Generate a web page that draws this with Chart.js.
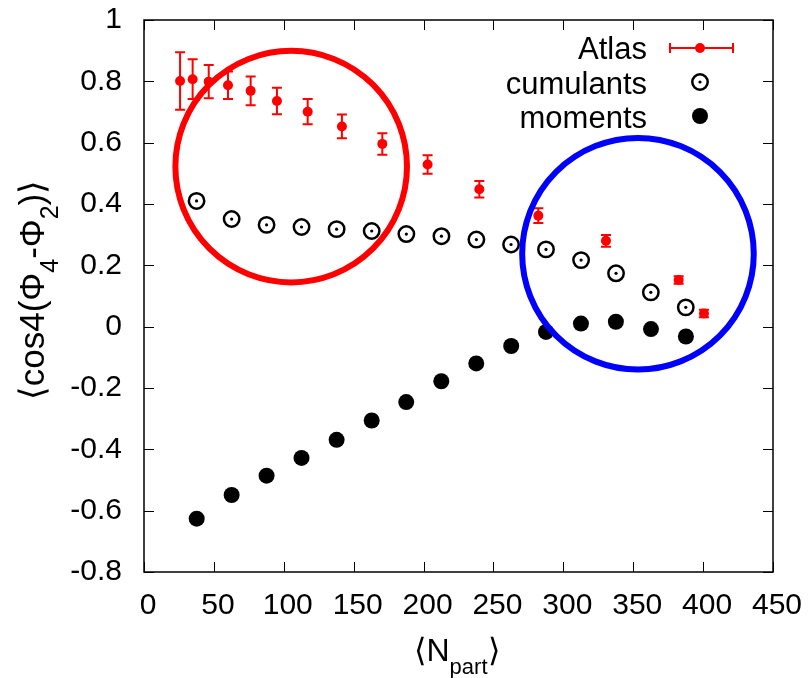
<!DOCTYPE html>
<html>
<head>
<meta charset="utf-8">
<script src="https://cdn.jsdelivr.net/npm/chart.js@4.4.1/dist/chart.umd.min.js"></script>
<style>
  body { margin: 0; background: #fff; }
</style>
</head>
<body>
<canvas id="chart" width="808" height="678"></canvas>
<script>
// values
const atlasX = [25.8, 34.8, 46.3, 60.1, 76.3, 95.1, 117.1, 141.6, 170.5, 202.9, 239.9, 282.1, 330.5, 382.5, 400.6];
const atlasY = [0.801, 0.807, 0.799, 0.787, 0.769, 0.736, 0.701, 0.653, 0.596, 0.529, 0.448, 0.362, 0.280, 0.152, 0.043];
const atlasErr = [0.094, 0.065, 0.054, 0.045, 0.047, 0.043, 0.041, 0.039, 0.035, 0.030, 0.027, 0.024, 0.019, 0.012, 0.012];

const cumX = [37.6, 62.7, 87.7, 112.7, 137.8, 162.9, 187.7, 212.8, 237.8, 262.6, 287.6, 312.7, 337.7, 362.6, 387.6];
const cumY = [0.410, 0.351, 0.332, 0.325, 0.318, 0.312, 0.302, 0.295, 0.284, 0.268, 0.252, 0.217, 0.174, 0.112, 0.063];

const momX = [37.7, 62.7, 87.7, 112.7, 137.8, 162.9, 187.6, 212.7, 237.7, 262.7, 287.6, 312.6, 337.6, 362.7, 387.7];
const momY = [-0.626, -0.549, -0.486, -0.428, -0.369, -0.306, -0.246, -0.178, -0.120, -0.063, -0.017, 0.010, 0.016, -0.008, -0.032];

// the two hand-drawn circles (centres)
const ringX = [105.3, 353.4];
const ringY = [0.522, 0.238];

const xTicks = [0, 50, 100, 150, 200, 250, 300, 350, 400, 450];
const yTicks = [-0.8, -0.6, -0.4, -0.2, 0, 0.2, 0.4, 0.6, 0.8, 1];

const seriesNames = ['Atlas', 'cumulants', 'moments'];

const FONT = '"Liberation Sans", Arial, Helvetica, sans-serif';

function pts(xs, ys) {
    return xs.map((x, i) => ({x: x, y: ys[i]}));
}

// error bars for the Atlas points
const errorBars = {
    id: 'errorBars',
    afterDatasetDraw(chart, args) {
        if (args.index !== 0) return;
        const ctx = chart.ctx;
        const xs = chart.scales.x, ys = chart.scales.y;
        ctx.save();
        ctx.strokeStyle = '#ff0000';
        ctx.lineWidth = 2;
        atlasX.forEach((x, i) => {
            const px = xs.getPixelForValue(x);
            const top = ys.getPixelForValue(atlasY[i] + atlasErr[i]);
            const bot = ys.getPixelForValue(atlasY[i] - atlasErr[i]);
            ctx.beginPath();
            ctx.moveTo(px, top); ctx.lineTo(px, bot);
            ctx.moveTo(px - 5, top); ctx.lineTo(px + 5, top);
            ctx.moveTo(px - 5, bot); ctx.lineTo(px + 5, bot);
            ctx.stroke();
        });
        ctx.restore();
    }
};

// draw text made of normal and subscript parts, starting at x on baseline y
function drawParts(ctx, parts, x, y, size) {
    parts.forEach(p => {
        const s = p.sub ? Math.round(size * 0.7) : size;
        ctx.font = s + 'px ' + FONT;
        ctx.fillText(p.t, x, p.sub ? y + size * 0.4 : y);
        x += ctx.measureText(p.t).width;
    });
}
function partsWidth(ctx, parts, size) {
    let w = 0;
    parts.forEach(p => {
        const s = p.sub ? Math.round(size * 0.7) : size;
        ctx.font = s + 'px ' + FONT;
        w += ctx.measureText(p.t).width;
    });
    return w;
}

// gnuplot-like frame, inward ticks, axis titles and the key
const decorations = {
    id: 'decorations',
    afterDraw(chart) {
        const ctx = chart.ctx;
        const {left, right, top, bottom} = chart.chartArea;
        const xs = chart.scales.x, ys = chart.scales.y;
        ctx.save();
        ctx.strokeStyle = '#000';
        ctx.lineWidth = 1;
        ctx.beginPath();
        xTicks.forEach(v => {
            const px = Math.round(xs.getPixelForValue(v)) + 0.5;
            ctx.moveTo(px, bottom); ctx.lineTo(px, bottom - 10);
            ctx.moveTo(px, top); ctx.lineTo(px, top + 10);
        });
        yTicks.forEach(v => {
            const py = Math.round(ys.getPixelForValue(v)) + 0.5;
            ctx.moveTo(left, py); ctx.lineTo(left + 10, py);
            ctx.moveTo(right, py); ctx.lineTo(right - 10, py);
        });
        ctx.stroke();
        ctx.lineWidth = 1.5;
        ctx.strokeRect(left, top, right - left, bottom - top);

        ctx.fillStyle = '#000';
        ctx.textAlign = 'left';
        ctx.textBaseline = 'alphabetic';

        // x title
        const xt = [{t: '\u27E8N'}, {t: 'part', sub: true}, {t: '\u27E9'}];
        const xw = partsWidth(ctx, xt, 32);
        drawParts(ctx, xt, 457 - xw / 2, 661, 32);

        // y title, rotated
        const yt = [{t: '\u27E8cos4(\u03A6'}, {t: '4', sub: true}, {t: '-\u03A6'}, {t: '2', sub: true}, {t: ')\u27E9'}];
        const yw = partsWidth(ctx, yt, 35);
        ctx.save();
        ctx.translate(44, 290);
        ctx.rotate(-Math.PI / 2);
        drawParts(ctx, yt, -yw / 2, 0, 35);
        ctx.restore();

        // key
        ctx.font = '31px ' + FONT;
        ctx.textAlign = 'right';
        const rows = [59, 93.5, 127.5];
        seriesNames.forEach((n, i) => ctx.fillText(n, 647, rows[i]));
        const sx = 700;
        // Atlas sample
        ctx.strokeStyle = '#ff0000';
        ctx.fillStyle = '#ff0000';
        ctx.lineWidth = 2;
        ctx.beginPath();
        ctx.moveTo(670, 48); ctx.lineTo(733, 48);
        ctx.moveTo(670, 43); ctx.lineTo(670, 53);
        ctx.moveTo(733, 43); ctx.lineTo(733, 53);
        ctx.stroke();
        ctx.beginPath(); ctx.arc(sx, 48, 5, 0, Math.PI * 2); ctx.fill();
        // cumulants sample
        ctx.strokeStyle = '#000';
        ctx.fillStyle = '#000';
        ctx.lineWidth = 2.5;
        ctx.beginPath(); ctx.arc(sx, 82, 7.7, 0, Math.PI * 2); ctx.stroke();
        ctx.beginPath(); ctx.arc(sx, 82, 1.6, 0, Math.PI * 2); ctx.fill();
        // moments sample
        ctx.beginPath(); ctx.arc(sx, 116, 8, 0, Math.PI * 2); ctx.fill();
        ctx.restore();
    }
};

const ctx = document.getElementById('chart').getContext('2d');
new Chart(ctx, {
    type: 'scatter',
    data: {
        datasets: [
            {
                label: seriesNames[0],
                data: pts(atlasX, atlasY),
                pointRadius: 5,
                backgroundColor: '#ff0000',
                borderColor: '#ff0000',
                borderWidth: 0,
                order: 1
            },
            {
                label: seriesNames[1],
                data: pts(cumX, cumY),
                pointRadius: 7.7,
                backgroundColor: 'rgba(0,0,0,0)',
                borderColor: '#000',
                borderWidth: 2.5,
                order: 3
            },
            {
                label: 'cumulant centres',
                data: pts(cumX, cumY),
                pointRadius: 1.6,
                backgroundColor: '#000',
                borderWidth: 0,
                order: 3
            },
            {
                label: seriesNames[2],
                data: pts(momX, momY),
                pointRadius: 8,
                backgroundColor: '#000',
                borderWidth: 0,
                order: 2
            },
            {
                label: 'rings',
                data: pts(ringX, ringY),
                pointRadius: 115.8,
                backgroundColor: 'rgba(0,0,0,0)',
                borderColor: ['#ff0000', '#0000ff'],
                borderWidth: 6,
                order: 0,
                clip: false
            }
        ]
    },
    options: {
        responsive: false,
        animation: false,
        events: [],
        layout: {autoPadding: false, padding: {top: 20, right: 35, left: 0, bottom: 0}},
        plugins: {
            legend: {display: false},
            tooltip: {enabled: false}
        },
        scales: {
            x: {
                type: 'linear',
                min: 0,
                max: 450,
                afterBuildTicks: s => { s.ticks = xTicks.map(v => ({value: v})); },
                afterFit: s => { s.height = 106; s.paddingLeft = 0; s.paddingRight = 0; },
                grid: {display: false, drawTicks: false},
                border: {display: false},
                ticks: {
                    color: '#000',
                    font: {family: FONT, size: 30},
                    padding: 16,
                    labelOffset: 4,
                    maxRotation: 0,
                    autoSkip: false
                }
            },
            y: {
                type: 'linear',
                min: -0.8,
                max: 1,
                afterBuildTicks: s => { s.ticks = yTicks.map(v => ({value: v})); },
                afterFit: s => { s.width = 144; s.paddingTop = 0; s.paddingBottom = 0; },
                grid: {display: false, drawTicks: false},
                border: {display: false},
                ticks: {
                    color: '#000',
                    font: {family: FONT, size: 30},
                    padding: 22,
                    autoSkip: false,
                    callback: v => String(parseFloat(v.toFixed(1)))
                }
            }
        }
    },
    plugins: [errorBars, decorations]
});
</script>
</body>
</html>
